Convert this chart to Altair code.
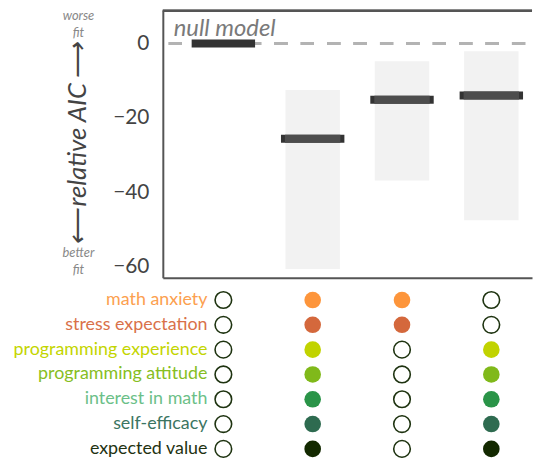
import altair as alt
import pandas as pd

# ---- data ----
models = [1, 2, 3, 4]
rel_aic = [0.0, -25.6, -15.1, -14.0]
is_null = [True, False, False, False]

ci_models = [2, 3, 4]
ci_low = [-60.6, -36.8, -47.5]
ci_high = [-12.5, -4.8, -2.1]

predictors = [
    "math anxiety",
    "stress expectation",
    "programming experience",
    "programming attitude",
    "interest in math",
    "self-efficacy",
    "expected value",
]
label_colors = ["#fca04f", "#d9714a", "#c3d500", "#86be22", "#6cbf88", "#3b7562", "#1f3312"]
dot_colors = ["#fd953b", "#d4683c", "#c1d300", "#80b91a", "#2a9448", "#2e6b50", "#132900"]

included_m1 = [0, 0, 0, 0, 0, 0, 0]
included_m2 = [1, 1, 1, 1, 1, 1, 1]
included_m3 = [1, 1, 0, 0, 0, 0, 0]
included_m4 = [0, 0, 1, 1, 1, 1, 1]

y_ticks = [0, -20, -40, -60]
null_label = ["null model"]
null_label_y = [1.9]
fit_labels = ["worse\nfit", "better\nfit"]
fit_label_y = [7.4, -56.3]

# ---- layout constants ----
Y_MIN, Y_MAX = -62.93, 8.8
X_MIN = 0.3222
W = 372
X_MAX = X_MIN + W / 90.0
TOP_H = 269
STEP = 25.0
BOT_PAD = 0.3
BOT_H = STEP * (len(predictors) - 1 + 2 * BOT_PAD)
HALF_BAR = 0.355
HALF_CI = 0.305
FRAME = "#555555"

xs = alt.Scale(domain=[X_MIN, X_MAX], nice=False, zero=False)
ys = alt.Scale(domain=[Y_MIN, Y_MAX], nice=False, zero=False)

xaxis = alt.Axis(labels=False, ticks=False, title=None, grid=False,
                 domainColor=FRAME, domainWidth=2)
yaxis = alt.Axis(values=y_ticks, ticks=False, grid=False, labelFontSize=21,
                 labelColor="#444444", labelPadding=14, domainColor=FRAME,
                 domainWidth=2, title="⟵\u2009relative AIC\u2009⟶", titleFontSize=26,
                 titleFontStyle="italic", titleFontWeight="normal",
                 titleColor="#444444", titlePadding=22)

aic_df = pd.DataFrame({"model": models, "aic": rel_aic, "null": is_null})
ci_df = pd.DataFrame({"model": ci_models, "lo": ci_low, "hi": ci_high})

ci_rects = alt.Chart(ci_df).transform_calculate(
    x0=f"datum.model - {HALF_CI}", x1=f"datum.model + {HALF_CI}"
).mark_rect(color="#f2f2f2").encode(
    x=alt.X("x0:Q", scale=xs, axis=xaxis),
    x2="x1:Q",
    y=alt.Y("lo:Q", scale=ys, axis=yaxis),
    y2="hi:Q",
)

zero_line = alt.Chart(aic_df).mark_rule(
    color="#b3b3b3", strokeWidth=3, strokeDash=[13.3, 13.3], strokeDashOffset=20.6
).encode(
    x=alt.X(datum=X_MIN, type="quantitative", scale=xs, axis=xaxis),
    x2=alt.X2(datum=X_MAX),
    y=alt.Y(datum=0, type="quantitative", scale=ys, axis=yaxis),
)

bars_base = alt.Chart(aic_df).transform_calculate(
    x0=f"datum.model - {HALF_BAR}", x1=f"datum.model + {HALF_BAR}"
)
bar_outer = bars_base.mark_rect(color="#333333", yOffset=-4, y2Offset=4).encode(
    x=alt.X("x0:Q", scale=xs, axis=xaxis),
    x2="x1:Q",
    y=alt.Y("aic:Q", scale=ys, axis=yaxis),
    y2="aic:Q",
)
bar_inner = bars_base.transform_filter("!datum.null").mark_rect(
    color="#4d4d4d", yOffset=-4, y2Offset=4, xOffset=4, x2Offset=-4
).encode(
    x=alt.X("x0:Q", scale=xs, axis=xaxis),
    x2="x1:Q",
    y=alt.Y("aic:Q", scale=ys, axis=yaxis),
    y2="aic:Q",
)

null_df = pd.DataFrame({"t": null_label, "y": null_label_y})
null_text = alt.Chart(null_df).mark_text(
    align="left", baseline="alphabetic", fontSize=24, fontStyle="italic",
    color="#7a7a7a"
).encode(x=alt.value(11), y=alt.Y("y:Q", scale=ys, axis=yaxis), text="t:N")

fit_df = pd.DataFrame({"t": fit_labels, "y": fit_label_y})
fit_text = alt.Chart(fit_df).mark_text(
    align="center", baseline="middle", fontSize=13, fontStyle="italic",
    color="#888888", lineBreak="\n", lineHeight=17
).encode(x=alt.value(-85), y=alt.Y("y:Q", scale=ys, axis=yaxis), text="t:N")

top_border = alt.Chart(aic_df).mark_rule(color=FRAME, strokeWidth=2).encode(
    y=alt.Y(datum=Y_MAX, type="quantitative", scale=ys, axis=yaxis)
)

# invisible left anchor so the page layout is fixed
anchor = alt.Chart(aic_df).mark_rule(strokeOpacity=0, strokeWidth=1).encode(
    x=alt.value(-156), y=alt.Y(datum=Y_MAX, type="quantitative", scale=ys, axis=yaxis),
    y2=alt.Y2(datum=0)
)

top = alt.layer(
    ci_rects, zero_line, bar_outer, bar_inner, null_text, fit_text, top_border, anchor
).properties(width=W, height=TOP_H)

# ---- membership matrix ----
inc_lists = [included_m1, included_m2, included_m3, included_m4]
rows = []
for m, inc in zip(models, inc_lists):
    for p, v in zip(predictors, inc):
        rows.append({"model": m, "pred": p, "inc": v})
mem_df = pd.DataFrame(rows)
lab_df = pd.DataFrame({"pred": predictors, "model": [models[0]] * len(predictors)})

bx = alt.X("model:Q", scale=xs, axis=None)
by = alt.Y("pred:N", scale=alt.Scale(domain=predictors, type="point", padding=BOT_PAD), axis=None)

labels = alt.Chart(lab_df).mark_text(
    align="right", baseline="middle", dx=-16, fontSize=18, fontWeight=400
).encode(
    x=bx, y=by, text="pred:N",
    color=alt.Color("pred:N", scale=alt.Scale(domain=predictors, range=label_colors), legend=None),
)
open_dots = alt.Chart(mem_df).transform_filter("datum.inc == 0").mark_point(
    shape="circle", size=280, filled=False, stroke="#1e3310", strokeWidth=1.6, opacity=1
).encode(x=bx, y=by)
full_dots = alt.Chart(mem_df).transform_filter("datum.inc == 1").mark_circle(
    size=280, opacity=1
).encode(
    x=bx, y=by,
    color=alt.Color("pred:N", scale=alt.Scale(domain=predictors, range=dot_colors), legend=None),
)

bottom = alt.layer(labels, open_dots, full_dots).resolve_scale(color="independent").properties(
    width=W, height=BOT_H
)

chart = alt.vconcat(top, bottom, spacing=10).properties(
    padding={"left": 0, "top": 0, "right": 0, "bottom": 0}
).configure(font="Lato").configure_view(stroke=None)

chart.save("out.html", embed_options={"renderer": "svg", "actions": False})
